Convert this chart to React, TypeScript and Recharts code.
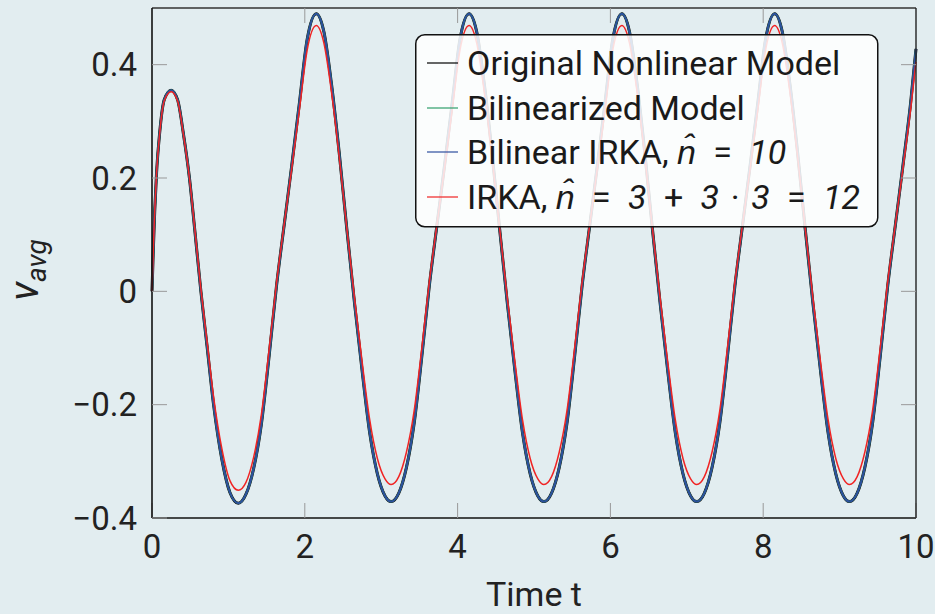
import React from 'react';
import { LineChart, Line, XAxis, YAxis, Legend } from 'recharts';

// time samples (s), denser around extrema
const time = [
  0, 0.015, 0.035, 0.06, 0.1, 0.16, 0.25, 0.335, 0.41, 0.49, 0.56, 0.64, 0.72, 0.806, 0.915, 1.02, 1.13,
  1.23, 1.33, 1.43, 1.53, 1.63, 1.73, 1.83, 1.93, 2.03, 2.15,
  2.25, 2.35, 2.45, 2.55, 2.65, 2.75, 2.85, 2.95, 3.05, 3.13,
  3.23, 3.33, 3.43, 3.53, 3.63, 3.73, 3.83, 3.93, 4.03, 4.15,
  4.25, 4.35, 4.45, 4.55, 4.65, 4.75, 4.85, 4.95, 5.05, 5.13,
  5.23, 5.33, 5.43, 5.53, 5.63, 5.73, 5.83, 5.93, 6.03, 6.15,
  6.25, 6.35, 6.45, 6.55, 6.65, 6.75, 6.85, 6.95, 7.05, 7.13,
  7.23, 7.33, 7.43, 7.53, 7.63, 7.73, 7.83, 7.93, 8.03, 8.15,
  8.25, 8.35, 8.45, 8.55, 8.65, 8.75, 8.85, 8.95, 9.05, 9.13,
  9.23, 9.33, 9.43, 9.53, 9.63, 9.73, 9.83, 9.93, 10.0,
];

// original nonlinear model (bilinearized + bilinear IRKA lie on top of it)
const original = [
  0, 0.065, 0.14, 0.21, 0.279, 0.338, 0.355, 0.338, 0.279, 0.2, 0.108, 0, -0.096, -0.2, -0.297, -0.355, -0.374,
  -0.358, -0.313, -0.236, -0.118, 0.01, 0.117, 0.223, 0.333, 0.444, 0.49,
  0.458, 0.365, 0.245, 0.11, -0.02, -0.14, -0.25, -0.322, -0.361, -0.371,
  -0.356, -0.311, -0.234, -0.117, 0.01, 0.117, 0.223, 0.333, 0.444, 0.49,
  0.458, 0.365, 0.245, 0.11, -0.02, -0.14, -0.25, -0.322, -0.361, -0.371,
  -0.356, -0.311, -0.234, -0.117, 0.01, 0.117, 0.223, 0.333, 0.444, 0.49,
  0.458, 0.365, 0.245, 0.11, -0.02, -0.14, -0.25, -0.322, -0.361, -0.371,
  -0.356, -0.311, -0.234, -0.117, 0.01, 0.117, 0.223, 0.333, 0.444, 0.49,
  0.458, 0.365, 0.245, 0.11, -0.02, -0.14, -0.25, -0.322, -0.361, -0.371,
  -0.356, -0.311, -0.234, -0.117, 0.01, 0.117, 0.223, 0.333, 0.428,
];
const bilinearized = original;
const bilinearIrka = original;

// IRKA, n = 12
const irka = [
  0, 0.065, 0.14, 0.21, 0.278, 0.336, 0.352, 0.336, 0.278, 0.2, 0.11, 0.004, -0.088, -0.186, -0.278, -0.334, -0.351,
  -0.337, -0.293, -0.219, -0.106, 0.015, 0.118, 0.218, 0.321, 0.425, 0.469,
  0.438, 0.351, 0.238, 0.111, -0.011, -0.124, -0.227, -0.295, -0.331, -0.341,
  -0.327, -0.284, -0.212, -0.102, 0.017, 0.118, 0.218, 0.321, 0.425, 0.469,
  0.438, 0.351, 0.238, 0.111, -0.011, -0.124, -0.227, -0.295, -0.331, -0.341,
  -0.327, -0.284, -0.212, -0.102, 0.017, 0.118, 0.218, 0.321, 0.425, 0.469,
  0.438, 0.351, 0.238, 0.111, -0.011, -0.124, -0.227, -0.295, -0.331, -0.341,
  -0.327, -0.284, -0.212, -0.102, 0.017, 0.118, 0.218, 0.321, 0.425, 0.469,
  0.438, 0.351, 0.238, 0.111, -0.011, -0.124, -0.227, -0.295, -0.331, -0.341,
  -0.327, -0.284, -0.212, -0.102, 0.017, 0.118, 0.218, 0.321, 0.405,
];

const xTicks = [0, 2, 4, 6, 8, 10];
const yTicks = [-0.4, -0.2, 0, 0.2, 0.4];

const BG = '#e2edf0';
const FONT = 'Roboto, "Liberation Sans", sans-serif';
const COLORS = { original: '#000000', bilinearized: '#2e9e6b', bilinearIrka: '#2d4f9e', irka: '#f02424' };

const data = time.map((t, i) => ({
  t,
  original: original[i],
  bilinearized: bilinearized[i],
  bilinearIrka: bilinearIrka[i],
  irka: irka[i],
}));

const fmtY = (v: number) => (v === 0 ? '0' : v < 0 ? '\u2212' + Math.abs(v).toFixed(1) : v.toFixed(1));

const YTitle = () => (
  <text
    transform="translate(38,270) rotate(-90)"
    textAnchor="middle"
    fontFamily={FONT}
    fontStyle="italic"
    fill="#222"
  >
    <tspan fontSize={40}>v</tspan>
    <tspan fontSize={28} dy={8}>avg</tspan>
  </text>
);

const SP = '\u2002';
const SP2 = '\u2004';

const LegendBox = () => {
  const rows = [29, 74, 118, 163];
  const it = { fontStyle: 'italic' as const };
  return (
    <svg width={464} height={194} style={{ display: 'block' }}>
      <rect x={0.75} y={0.75} width={462} height={192} rx={9} fill="#fff" fillOpacity={0.85} stroke="#111" strokeWidth={1.5} />
      <g fontFamily={FONT} fontSize={34} fill="#1a1a1a">
        <line x1={12} x2={43} y1={rows[0]} y2={rows[0]} stroke={COLORS.original} strokeWidth={1.2} />
        <text x={52} y={rows[0] + 12}>Original Nonlinear Model</text>
        <line x1={12} x2={43} y1={rows[1]} y2={rows[1]} stroke={COLORS.bilinearized} strokeWidth={1.2} />
        <text x={52} y={rows[1] + 12}>Bilinearized Model</text>
        <line x1={12} x2={43} y1={rows[2]} y2={rows[2]} stroke={COLORS.bilinearIrka} strokeWidth={1.2} />
        <text x={52} y={rows[2] + 12}>
          {'Bilinear IRKA, '}
          <tspan {...it}>{'n\u0302'}</tspan>
          {SP + '=' + SP}
          <tspan {...it}>10</tspan>
        </text>
        <line x1={12} x2={43} y1={rows[3]} y2={rows[3]} stroke={COLORS.irka} strokeWidth={1.2} />
        <text x={52} y={rows[3] + 12}>
          {'IRKA, '}
          <tspan {...it}>{'n\u0302'}</tspan>
          {SP + '=' + SP}
          <tspan {...it}>3</tspan>
          {SP + '+' + SP}
          <tspan {...it}>3</tspan>
          {SP2 + '\u00b7' + SP2}
          <tspan {...it}>3</tspan>
          {SP + '=' + SP}
          <tspan {...it}>12</tspan>
        </text>
      </g>
    </svg>
  );
};

export default function App() {
  const tickStyle = { fill: '#222', fontSize: 33, fontFamily: FONT };
  return (
    <div style={{ position: 'absolute', left: 0, top: 0, width: 935, height: 614, background: BG }}>
      <LineChart width={935} height={614} data={data} margin={{ top: 7, right: 18, left: 0, bottom: 0 }}>
        <XAxis
          dataKey="t"
          type="number"
          domain={[0, 10]}
          ticks={xTicks}
          interval={0}
          height={96}
          tick={tickStyle}
          tickSize={-15}
          tickMargin={32}
          tickLine={{ stroke: '#999', strokeWidth: 1 }}
          axisLine={{ stroke: '#111', strokeWidth: 1.6 }}
          label={{ value: 'Time t', position: 'insideBottom', offset: 8, fontSize: 34, fontFamily: FONT, fill: '#222' }}
        />
        <XAxis
          xAxisId="top"
          dataKey="t"
          orientation="top"
          type="number"
          domain={[0, 10]}
          allowDataOverflow
          ticks={[2, 4, 6, 8]}
          interval={0}
          height={1}
          tickFormatter={() => ''}
          tickSize={-15}
          tickLine={{ stroke: '#999', strokeWidth: 1 }}
          axisLine={{ stroke: '#333', strokeWidth: 1.4 }}
        />
        <YAxis
          type="number"
          domain={[-0.4, 0.5]}
          ticks={yTicks}
          interval={0}
          allowDataOverflow
          width={152}
          tick={tickStyle}
          tickFormatter={fmtY}
          tickSize={-15}
          tickMargin={30}
          tickLine={{ stroke: '#999', strokeWidth: 1 }}
          axisLine={{ stroke: '#111', strokeWidth: 1.6 }}
          label={<YTitle />}
        />
        <YAxis
          yAxisId="right"
          dataKey="original"
          orientation="right"
          type="number"
          domain={[-0.4, 0.5]}
          allowDataOverflow
          ticks={[-0.2, 0, 0.2, 0.4]}
          interval={0}
          width={1}
          tickFormatter={() => ''}
          tickSize={-15}
          tickLine={{ stroke: '#999', strokeWidth: 1 }}
          axisLine={{ stroke: '#222', strokeWidth: 1.4 }}
        />
        <Line type="monotone" dataKey="original" stroke={COLORS.original} strokeWidth={3} dot={false} isAnimationActive={false} />
        <Line type="monotone" dataKey="bilinearized" stroke={COLORS.bilinearized} strokeWidth={2} dot={false} isAnimationActive={false} />
        <Line type="monotone" dataKey="bilinearIrka" stroke={COLORS.bilinearIrka} strokeWidth={2} dot={false} isAnimationActive={false} />
        <Line type="monotone" dataKey="irka" stroke={COLORS.irka} strokeWidth={1.5} dot={false} isAnimationActive={false} />
        <Legend
          layout="horizontal"
          verticalAlign="middle"
          align="center"
          content={<LegendBox />}
          wrapperStyle={{ left: 415, top: 34, width: 464, height: 194 }}
        />
      </LineChart>
    </div>
  );
}
